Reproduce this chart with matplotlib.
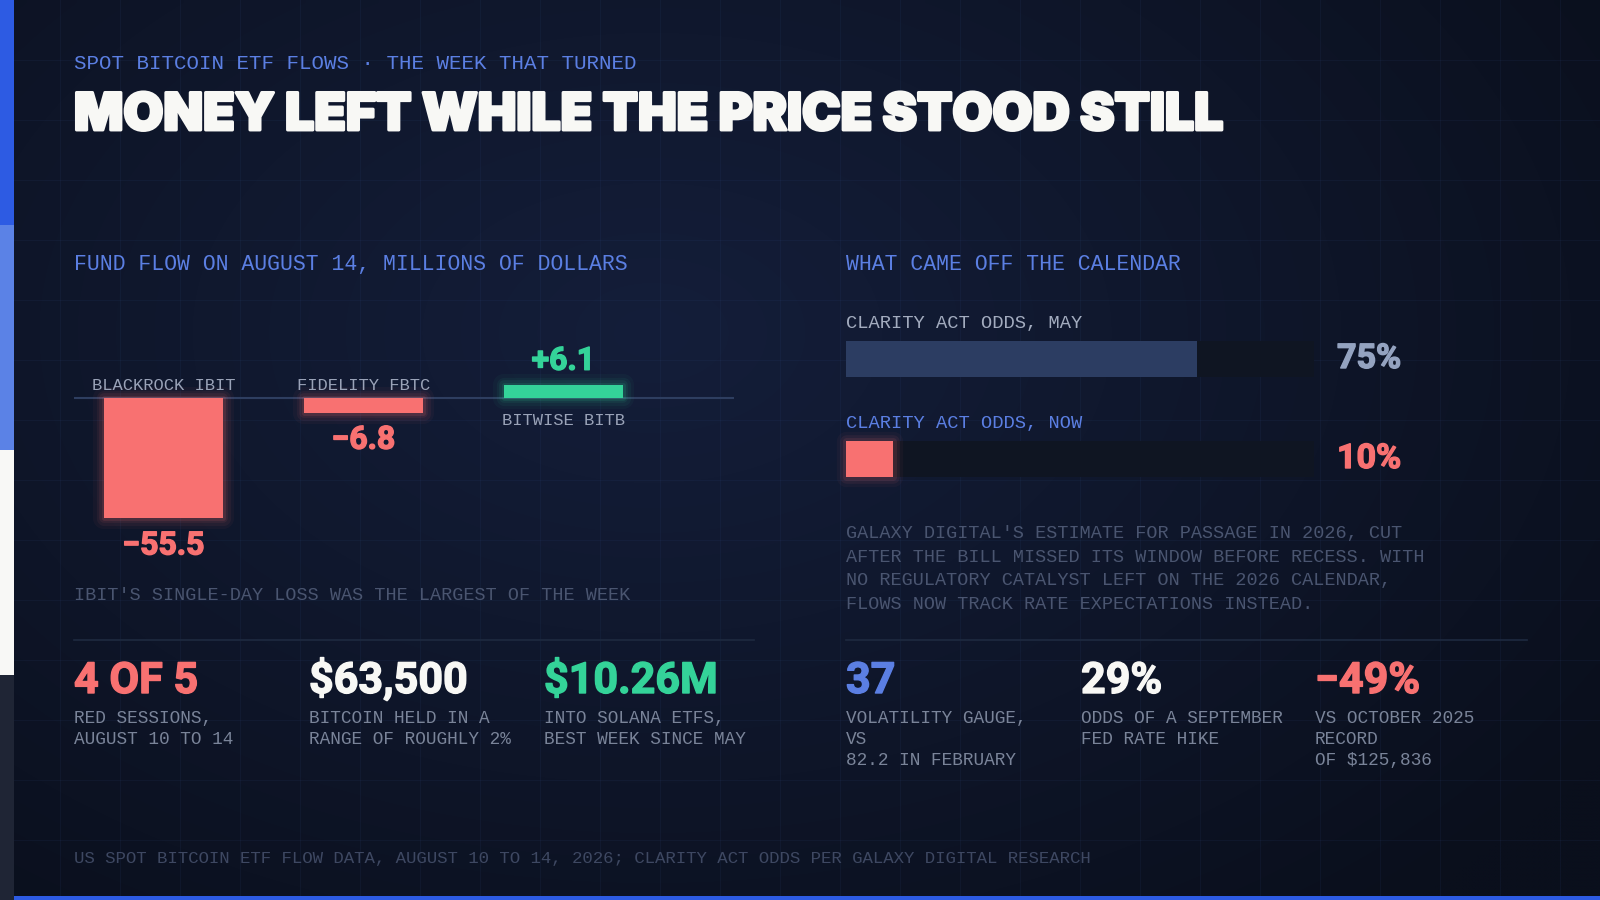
import numpy as np
import matplotlib
matplotlib.use("Agg")
import matplotlib.pyplot as plt
import matplotlib.patheffects as pe
from matplotlib.patches import Rectangle

W, H = 1600, 900

# ---- data ----
fund_names = ["BLACKROCK IBIT", "FIDELITY FBTC", "BITWISE BITB"]
fund_flows = [-55.5, -6.8, 6.1]
flow_labels = ["\u221255.5", "\u22126.8", "+6.1"]

odds_labels = ["CLARITY ACT ODDS, MAY", "CLARITY ACT ODDS, NOW"]
odds_values = [75, 10]

stat_values = ["4 OF 5", "$63,500", "$10.26M", "37", "29%", "\u221249%"]
stat_notes = [
    ["RED SESSIONS,", "AUGUST 10 TO 14"],
    ["BITCOIN HELD IN A", "RANGE OF ROUGHLY 2%"],
    ["INTO SOLANA ETFS,", "BEST WEEK SINCE MAY"],
    ["VOLATILITY GAUGE,", "VS", "82.2 IN FEBRUARY"],
    ["ODDS OF A SEPTEMBER", "FED RATE HIKE"],
    ["VS OCTOBER 2025", "RECORD", "OF $125,836"],
]

eyebrow = "SPOT BITCOIN ETF FLOWS \u00b7 THE WEEK THAT TURNED"
title = "MONEY LEFT WHILE THE PRICE STOOD STILL"
left_head = "FUND FLOW ON AUGUST 14, MILLIONS OF DOLLARS"
right_head = "WHAT CAME OFF THE CALENDAR"
caption = "IBIT'S SINGLE-DAY LOSS WAS THE LARGEST OF THE WEEK"
paragraph = [
    "GALAXY DIGITAL'S ESTIMATE FOR PASSAGE IN 2026, CUT",
    "AFTER THE BILL MISSED ITS WINDOW BEFORE RECESS. WITH",
    "NO REGULATORY CATALYST LEFT ON THE 2026 CALENDAR,",
    "FLOWS NOW TRACK RATE EXPECTATIONS INSTEAD.",
]
footer = ("US SPOT BITCOIN ETF FLOW DATA, AUGUST 10 TO 14, 2026; "
          "CLARITY ACT ODDS PER GALAXY DIGITAL RESEARCH")

# ---- colours ----
BLUE = "#5b7fe3"
RED = "#f87171"
GREEN = "#34d399"
WHITE = "#f8f8f5"
LABEL = "#9aa3b8"
DIM = "#4a5570"
NOTE = "#7a8499"
FOOT = "#3e4862"
TRACK = "#0f1522"
FILL = "#2c3d62"
stat_colors = [RED, WHITE, GREEN, BLUE, WHITE, RED]

MONO = ["Liberation Mono", "DejaVu Sans Mono"]
HEAVY = ["Inter", "Roboto", "DejaVu Sans"]
NUM = ["Roboto", "DejaVu Sans"]


def thick(c, w=1.0):
    return [pe.withStroke(linewidth=w, foreground=c)]


fig = plt.figure(figsize=(16, 9), dpi=100)
bg = fig.add_axes([0, 0, 1, 1])
bg.set_xlim(0, W)
bg.set_ylim(H, 0)
bg.axis("off")

# background gradient
yy, xx = np.mgrid[0:H:6, 0:W:6]
d = np.sqrt(((xx - 650) / 1150.0) ** 2 + ((yy - 330) / 750.0) ** 2)
t = np.clip(d, 0, 1)[..., None]
c0 = np.array([0x14, 0x1e, 0x3a]) / 255.0
c1 = np.array([0x0a, 0x0f, 0x1c]) / 255.0
img = c0 * (1 - t) + c1 * t
bg.imshow(img, extent=(0, W, H, 0), aspect="auto", interpolation="bilinear", zorder=0)

for gx in range(60, W, 60):
    bg.axvline(gx, color="#3b5b9a", lw=0.72, alpha=0.09, zorder=1)
for gy in range(60, H, 60):
    bg.axhline(gy, color="#3b5b9a", lw=0.72, alpha=0.09, zorder=1)

# left colour strip and bottom rule
for i, c in enumerate(["#2d5be3", "#5b82e6", "#f8f8f6", "#1f2535"]):
    bg.add_patch(Rectangle((0, i * 225), 14, 225, color=c, lw=0, zorder=2))
bg.add_patch(Rectangle((14, 896), W - 14, 4, color="#2d5be3", lw=0, zorder=2))

# header
bg.text(74, 69, eyebrow, color=BLUE, fontsize=15, family=MONO, va="baseline", zorder=3)
tt = bg.text(74, 130, title, color=WHITE, fontsize=40, family=HEAVY,
             fontweight="black", va="baseline", zorder=3,
             path_effects=thick(WHITE, 2.1))
r = fig.canvas.get_renderer()
tw = tt.get_window_extent(r).width
tt.set_fontsize(40 * 1150 / tw)

bg.text(74, 270, left_head, color=BLUE, fontsize=15.5, family=MONO, va="baseline", zorder=3)
bg.text(846, 270, right_head, color=BLUE, fontsize=15.5, family=MONO, va="baseline", zorder=3)
bg.text(74, 600, caption, color=DIM, fontsize=13.3, family=MONO, va="baseline", zorder=3)

for i, line in enumerate(paragraph):
    bg.text(846, 538 + i * 23.7, line, color=DIM, fontsize=13.3, family=MONO,
            va="baseline", zorder=3)

# separators
bg.plot([74, 754], [640, 640], color="#1e2a40", lw=1.2, zorder=2)
bg.plot([846, 1527], [640, 640], color="#1e2a40", lw=1.2, zorder=2)

# stats row
stat_x = [74, 309, 544, 846, 1081, 1315]
for sx, val, notes, c in zip(stat_x, stat_values, stat_notes, stat_colors):
    bg.text(sx, 693, val, color=c, fontsize=31, family=NUM, fontweight="bold",
            va="baseline", zorder=3, path_effects=thick(c, 1.0))
    for j, line in enumerate(notes):
        bg.text(sx, 723 + j * 21, line, color=NOTE, fontsize=12.8, family=MONO,
                va="baseline", zorder=3)

bg.text(74, 863, footer, color=FOOT, fontsize=12.5, family=MONO, va="baseline", zorder=3)

# ---- fund flow bars ----
ax = fig.add_axes([74 / W, 1 - 560 / H, 660 / W, 230 / H])
ax.patch.set_alpha(0)
px = 2.17
ax.set_xlim(-0.4475, 2.8525)
ax.set_ylim(-(560 - 398) / px, (398 - 330) / px)
ax.axis("off")
xs = np.arange(len(fund_flows))
bar_colors = [RED if v < 0 else GREEN for v in fund_flows]
ax.axhline(0, color="#2e3e60", lw=1.5, zorder=1)
for lw, a in [(16, 0.04), (11, 0.06), (7, 0.08), (3.5, 0.12)]:
    ax.bar(xs, fund_flows, width=0.595, color="none", edgecolor=bar_colors,
           linewidth=lw, alpha=a, joinstyle="round", zorder=2, clip_on=False)
ax.bar(xs, fund_flows, width=0.595, color=bar_colors, zorder=3)
for i, (name, v, lab, c) in enumerate(zip(fund_names, fund_flows, flow_labels, bar_colors)):
    if v < 0:
        ax.annotate(name, (i, 0), xytext=(0, 8), textcoords="offset pixels",
                    ha="center", va="baseline", color=LABEL, fontsize=12.3, family=MONO)
        ax.annotate(lab, (i, v), xytext=(0, -12), textcoords="offset pixels",
                    ha="center", va="top", color=c, fontsize=23, family=NUM,
                    fontweight="bold", path_effects=thick(c, 1.0))
    else:
        ax.annotate(name, (i, 0), xytext=(0, -15), textcoords="offset pixels",
                    ha="center", va="top", color=LABEL, fontsize=12.3, family=MONO)
        ax.annotate(lab, (i, v), xytext=(0, 15), textcoords="offset pixels",
                    ha="center", va="baseline", color=c, fontsize=23, family=NUM,
                    fontweight="bold", path_effects=thick(c, 1.0))

# ---- odds bars ----
ox = fig.add_axes([846 / W, 1 - 477 / H, 468 / W, 136 / H])
ox.patch.set_alpha(0)
ox.set_xlim(0, 100)
ox.set_ylim(1.18, -0.18)
ox.axis("off")
ys = np.arange(len(odds_values))
ox.barh(ys, [100] * len(ys), height=0.36, color=TRACK, zorder=1)
for lw, a in [(14, 0.04), (9, 0.07), (5, 0.1)]:
    ox.barh(ys[1:], odds_values[1:], height=0.36, color="none", edgecolor=RED,
            linewidth=lw, alpha=a, joinstyle="round", zorder=2, clip_on=False)
ox.barh(ys, odds_values, height=0.36, color=[FILL, RED], zorder=3)
odds_label_colors = ["#a3acbf", BLUE]
odds_value_colors = ["#94a3c0", RED]
for i, (lab, v) in enumerate(zip(odds_labels, odds_values)):
    ox.annotate(lab, (0, i - 0.18), xytext=(0, 13), textcoords="offset pixels",
                ha="left", va="baseline", color=odds_label_colors[i], fontsize=13.5,
                family=MONO, annotation_clip=False)
    ox.annotate(f"{v}%", (100, i), xytext=(23, 0), textcoords="offset pixels",
                ha="left", va="center", color=odds_value_colors[i], fontsize=24.5,
                family=NUM, fontweight="bold", annotation_clip=False,
                path_effects=thick(odds_value_colors[i], 1.0))

fig.savefig("out.png", dpi=100)
